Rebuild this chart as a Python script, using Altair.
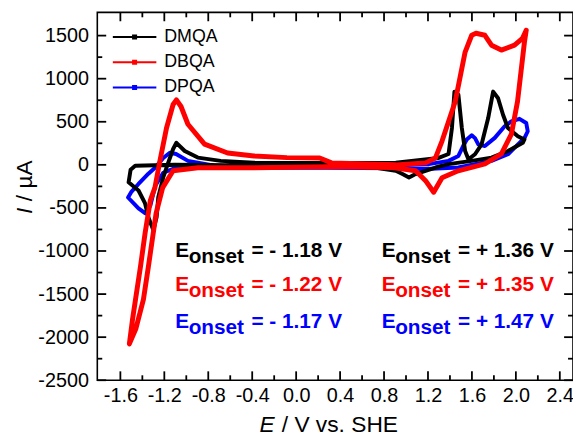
import altair as alt
import pandas as pd

# ---------------- data ----------------
SERIES = ["DMQA", "DBQA", "DPQA"]
COLORS = ["#000000", "#ff0000", "#0000ff"]

# DMQA (black) cyclic voltammogram, in scan order
E_DMQA = [2.078, 2.063, 1.928, 1.778, 1.598, 1.387, 1.268, 1.087, 1.027, 0.968, 0.907, 0.727,
          0.277, -0.384, -1.105, -1.465, -1.507, -1.525, -1.435, -1.375, -1.345, -1.300,
          -1.270, -1.255, -1.210, -1.165, -1.120, -1.090, -1.014, -0.895, -0.687, -0.384,
          0.277, 0.907, 1.297, 1.387, 1.418, 1.441, 1.477, 1.508, 1.538, 1.568, 1.628,
          1.688, 1.748, 1.793, 1.838, 1.883, 1.928, 2.018, 2.078]
I_DMQA = [295, 256, 161, 84, 46, 8, -31, -107, -146, -107, -69, -34,
          -11, -6, 0, -11, -57, -203, -298, -448, -608, -758,
          -605, -375, -146, 23, 184, 256, 161, 84, 46, 26,
          23, 26, 80, 126, 428, 850, 812, 428, 161, 65, 123,
          238, 543, 850, 773, 582, 428, 333, 295]

# DBQA (red)
E_DBQA = [2.094, 2.078, 2.015, 1.959, 1.868, 1.718, 1.475, 1.328, 1.252, 1.178, 1.087, 0.877,
          0.277, -0.384, -0.895, -1.120, -1.215, -1.275, -1.345, -1.390, -1.460, -1.518,
          -1.489, -1.462, -1.417, -1.375, -1.327, -1.285, -1.240, -1.180, -1.120, -1.090,
          -1.048, -0.985, -0.834, -0.624, -0.384, -0.084, 0.214, 0.322, 0.907, 1.178,
          1.268, 1.328, 1.448, 1.538, 1.598, 1.637, 1.718, 1.778, 1.868, 1.988, 2.060, 2.094]
I_DBQA = [1561, 1424, 735, 356, 126, 11, -69, -149, -318, -184, -69, -31,
          -23, -34, -34, -69, -264, -563, -1182, -1561, -1906, -2078,
          -1791, -1561, -1182, -792, -413, -261, 46, 428, 700, 754,
          677, 471, 241, 138, 103, 84, 80, 23, 0, 23,
          80, 276, 735, 1309, 1504, 1527, 1504, 1389, 1332, 1389, 1469, 1561]

# DPQA (blue)
E_DPQA = [0.907, 1.207, 1.387, 1.477, 1.520, 1.553, 1.598, 1.628, 1.658, 1.718, 1.808, 1.898,
          1.959, 2.033, 2.094, 2.108, 2.078, 2.049, 1.928, 1.778, 1.477, 1.178, 0.907,
          0.277, -0.384, -0.895, -1.120, -1.210, -1.282, -1.327, -1.372, -1.435, -1.530,
          -1.498, -1.435, -1.345, -1.282, -1.210, -1.150, -1.093, -0.985, -0.744, -0.384,
          0.277, 0.907]
I_DPQA = [-6, 8, 46, 103, 218, 295, 344, 310, 238, 218, 313, 448,
          505, 534, 486, 390, 310, 276, 123, 46, -31, -49, -40,
          -34, -34, -34, -46, -92, -241, -471, -563, -505, -379,
          -310, -222, -103, -31, 80, 141, 126, 46, -11, -17,
          -17, -6]

# annotations
ONSET_COLOR = ["#000000", "#ff0000", "#0000ff", "#000000", "#ff0000", "#0000ff"]
ONSET_E = [-1.10, -1.10, -1.10, 0.78, 0.78, 0.78]
ONSET_I = [-1068, -1469, -1894, -1068, -1469, -1894]
ONSET_TEXT = ["= - 1.18 V", "= - 1.22 V", "= - 1.17 V", "= + 1.36 V", "= + 1.35 V", "= + 1.47 V"]

# axes
X_DOMAIN = [-1.81, 2.52]
Y_DOMAIN = [-2500, 1770]
X_MAJOR = [-1.6, -1.2, -0.8, -0.4, 0.0, 0.4, 0.8, 1.2, 1.6, 2.0, 2.4]
X_MINOR = [-1.4, -1.0, -0.6, -0.2, 0.2, 0.6, 1.0, 1.4, 1.8, 2.2]
Y_MAJOR = [-2500, -2000, -1500, -1000, -500, 0, 500, 1000, 1500]
Y_MINOR = [-2250, -1750, -1250, -750, -250, 250, 750, 1250]

W, H = 481, 372
FONT = "Liberation Sans"
MAJ_PX, MIN_PX = 9, 5

frames = []
for name, es, cs in [("DMQA", E_DMQA, I_DMQA), ("DBQA", E_DBQA, I_DBQA), ("DPQA", E_DPQA, I_DPQA)]:
    frames.append(pd.DataFrame({"E": es, "I": cs, "series": name, "idx": range(len(es))}))
df = pd.concat(frames, ignore_index=True)

ann = pd.DataFrame({"E": ONSET_E, "I": ONSET_I, "hex": ONSET_COLOR, "txt": ONSET_TEXT})

xs = alt.Scale(domain=X_DOMAIN, nice=False, zero=False)
ys = alt.Scale(domain=Y_DOMAIN, nice=False, zero=False)

# inward tick marks: short two-point segments at the tick values, lengths converted px -> data units
xu = (X_DOMAIN[1] - X_DOMAIN[0]) / W
yu = (Y_DOMAIN[1] - Y_DOMAIN[0]) / H
tick_rows = []
tid = 0


def add_tick(e0, i0, e1, i1):
    global tid
    tick_rows.append({"E": e0, "I": i0, "tid": tid, "k": 0})
    tick_rows.append({"E": e1, "I": i1, "tid": tid, "k": 1})
    tid += 1


for vals, ln in [(X_MAJOR, MAJ_PX), (X_MINOR, MIN_PX)]:
    for v in vals:
        add_tick(v, Y_DOMAIN[0], v, Y_DOMAIN[0] + ln * yu)
        add_tick(v, Y_DOMAIN[1], v, Y_DOMAIN[1] - ln * yu)
for vals, ln in [(Y_MAJOR, MAJ_PX), (Y_MINOR, MIN_PX)]:
    for v in vals:
        add_tick(X_DOMAIN[0], v, X_DOMAIN[0] + ln * xu, v)
        add_tick(X_DOMAIN[1], v, X_DOMAIN[1] - ln * xu, v)
ticks_df = pd.DataFrame(tick_rows)

legend = alt.Legend(
    orient="none", legendX=25.7, legendY=13, title=None, padding=0,
    labelFontSize=18, labelFont=FONT, labelColor="black", labelOffset=18,
    symbolType="M-2,0H2M-0.14,-0.14H0.14V0.14H-0.14Z", symbolSize=484,
    symbolStrokeWidth=2, rowPadding=4.5,
)
color = alt.Color("series:N", scale=alt.Scale(domain=SERIES, range=COLORS), legend=legend)

ax_x_main = alt.Axis(orient="bottom", values=X_MAJOR, grid=False, ticks=False, tickSize=0, domain=False,
                     labelExpr="datum.value < 0 ? '-' + format(-datum.value, '.1f') : format(datum.value, '.1f')",
                     labelPadding=5, labelFontSize=20, labelFont=FONT, labelColor="black",
                     labelOverlap=False, labelFlush=False,
                     title="/ V vs. SHE", titleX=186, titleY=52, titleAlign="left",
                     titleBaseline="alphabetic", titleFontSize=23, titleFont=FONT,
                     titleFontWeight="normal", titleColor="black")
ax_y_main = alt.Axis(orient="left", values=Y_MAJOR, grid=False, ticks=False, tickSize=0, domain=False,
                     labelExpr="datum.value < 0 ? '-' + format(-datum.value, 'd') : format(datum.value, 'd')",
                     labelPadding=9, labelFontSize=20, labelFont=FONT, labelColor="black",
                     labelOverlap=False, labelFlush=False,
                     title="/ \u00b5A", titleX=-66.5, titleY=190.5, titleAngle=270, titleAlign="left",
                     titleBaseline="alphabetic", titleFontSize=23, titleFont=FONT,
                     titleFontWeight="normal", titleColor="black")
ax_x_E = alt.Axis(orient="bottom", grid=False, ticks=False, labels=False, domain=False,
                  title="E", titleX=163.5, titleY=52, titleAlign="left", titleBaseline="alphabetic",
                  titleFontSize=23, titleFont=FONT, titleFontWeight="normal", titleFontStyle="italic",
                  titleColor="black")
ax_y_I = alt.Axis(orient="left", grid=False, ticks=False, labels=False, domain=False,
                  title="I", titleX=-66.5, titleY=203.5, titleAngle=270, titleAlign="left",
                  titleBaseline="alphabetic", titleFontSize=23, titleFont=FONT, titleFontWeight="normal",
                  titleFontStyle="italic", titleColor="black")


def line_layer(name, xaxis, yaxis, sw):
    return alt.Chart(df[df.series == name]).mark_line(strokeWidth=sw, strokeJoin="round", strokeCap="round").encode(
        x=alt.X("E:Q", scale=xs, axis=xaxis),
        y=alt.Y("I:Q", scale=ys, axis=yaxis),
        color=color,
        order=alt.Order("idx:Q"),
    )


blue = line_layer("DPQA", ax_x_main, ax_y_main, 4)
black = line_layer("DMQA", ax_x_E, ax_y_I, 4)
red = line_layer("DBQA", None, None, 5)

tick_layer = alt.Chart(ticks_df).mark_line(color="#000000", strokeWidth=1.8, strokeCap="butt").encode(
    x=alt.X("E:Q", scale=xs, axis=None),
    y=alt.Y("I:Q", scale=ys, axis=None),
    detail="tid:N",
    order=alt.Order("k:Q"),
)

tbase = alt.Chart(ann).encode(
    x=alt.X("E:Q", scale=xs, axis=None),
    y=alt.Y("I:Q", scale=ys, axis=None),
    color=alt.Color("hex:N", scale=None, legend=None),
)
tE = tbase.mark_text(text="E", align="left", baseline="alphabetic", font=FONT, fontSize=21, fontWeight="bold")
tSub = tbase.mark_text(text="onset", align="left", baseline="alphabetic", font=FONT, fontSize=21,
                       fontWeight="bold", dx=13.5, dy=6)
tVal = tbase.mark_text(align="left", baseline="alphabetic", font=FONT, fontSize=21, fontWeight="bold",
                       dx=77).encode(text="txt:N")

chart = alt.layer(blue, black, red, tick_layer, tE, tSub, tVal).resolve_axis(
    x="independent", y="independent"
).properties(
    width=W, height=H,
    autosize=alt.AutoSizeParams(type="none"),
    padding={"left": 90.3, "top": 2, "right": 0, "bottom": 55},
).configure(font=FONT).configure_view(stroke="black", strokeWidth=1.6)

chart.save("out.html", embed_options={"renderer": "svg", "actions": False})
